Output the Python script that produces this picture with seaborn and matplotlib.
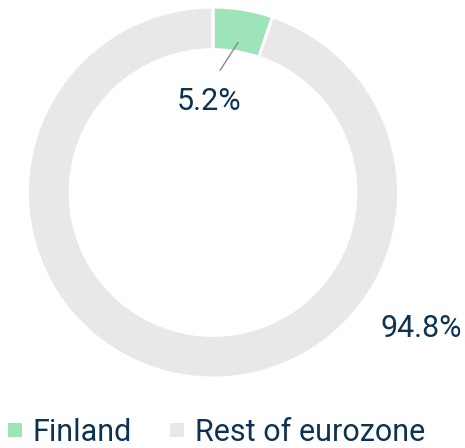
"""Donut chart — Finland share of eurozone."""
import matplotlib
matplotlib.use("Agg")
import matplotlib.pyplot as plt
from matplotlib.lines import Line2D
import numpy as np
import seaborn as sns

categories = ["Finland", "Rest of eurozone"]
shares     = [5.2, 94.8]
labels     = ["5.2%", "94.8%"]

COLORS = ["#9de4b9", "#e8e8e8"]
TEXT   = "#0d3352"

sns.set_theme(style="white")
plt.rcParams["font.family"] = ["Roboto", "DejaVu Sans"]

fig = plt.figure(figsize=(4.65, 4.48), dpi=100)
ax = fig.add_axes([27.5 / 465, 70 / 448, 371 / 465, 371 / 448])

wedges, _ = ax.pie(shares, colors=COLORS, startangle=90, counterclock=False,
                   radius=1.0,
                   wedgeprops=dict(width=0.23, edgecolor="white", linewidth=2.2))
ax.set_xlim(-1, 1); ax.set_ylim(-1, 1)
ax.set_aspect("equal")
ax.axis("off")

# Finland label with leader line
mid = np.deg2rad(90 - shares[0] / sum(shares) * 360 / 2)
x0, y0 = 0.83 * np.cos(mid), 0.82 * np.sin(mid)
ax.plot([x0, 0.038], [y0, 0.658], color="#8a8a8a", linewidth=1.0)
ax.text(-0.022, 0.49, labels[0], ha="center", va="center",
        fontsize=22, color=TEXT)

# Rest label
ax.text(1.121, -0.735, labels[1], ha="center", va="center",
        fontsize=22, color=TEXT, clip_on=False)

handles = [Line2D([], [], marker="s", linestyle="", markersize=9.5,
                  markeredgewidth=0, color=c, label=n)
           for c, n in zip(COLORS, categories)]
fig.legend(handles=handles, loc="lower left", bbox_to_anchor=(0.017, 0.003),
           ncol=2, frameon=False, fontsize=22, labelcolor=TEXT, borderpad=0,
           borderaxespad=0, handlelength=0.45, handletextpad=0.37,
           columnspacing=1.25)

fig.savefig("out.png", dpi=100)
